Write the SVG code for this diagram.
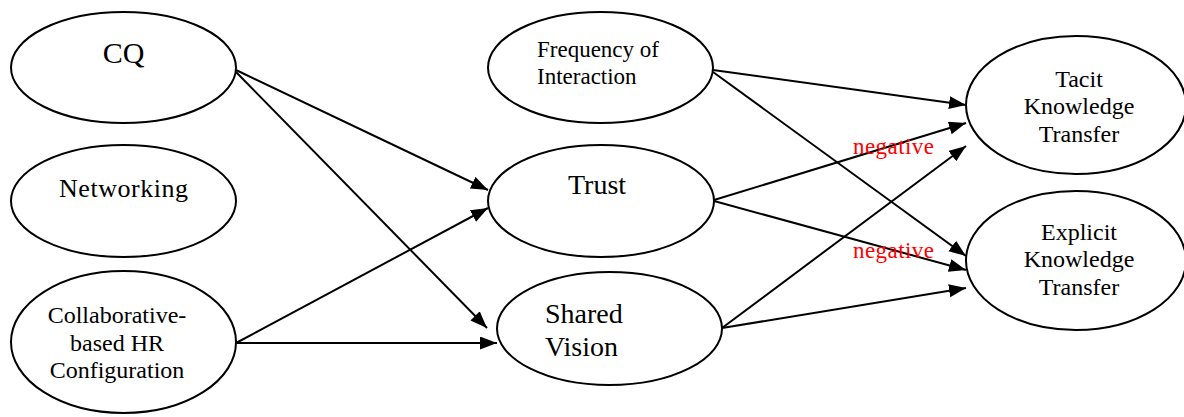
<svg xmlns="http://www.w3.org/2000/svg" width="1184" height="417" viewBox="0 0 1184 417">
<style>
.n{fill:#fff;stroke:#000;stroke-width:2}
.t{font-family:"Liberation Serif","Times New Roman",serif;fill:#000;text-anchor:middle}
.c{stroke:#000;stroke-width:2;fill:none;marker-end:url(#ah)}
.neg{font-family:"Liberation Serif","Times New Roman",serif;fill:#ff0000;font-size:23px}
</style>
<defs>
<marker id="ah" markerUnits="userSpaceOnUse" markerWidth="18" markerHeight="14" refX="17" refY="6.5" orient="auto">
<path d="M0,0 L17,6.5 L0,13 z" fill="#000"/>
</marker>
</defs>
<rect width="1184" height="417" fill="#fff"/>
<g id="connectors">
<line class="c" x1="236" y1="70" x2="488" y2="190"/>
<line class="c" x1="236" y1="72" x2="487" y2="328"/>
<line class="c" x1="236" y1="343" x2="488" y2="208"/>
<line class="c" x1="236" y1="343" x2="497" y2="343"/>
<line class="c" x1="713" y1="70" x2="966" y2="105"/>
<line class="c" x1="713" y1="72" x2="966" y2="256"/>
<line class="c" x1="714" y1="200" x2="966" y2="123"/>
<line class="c" x1="714" y1="201" x2="966" y2="270"/>
<line class="c" x1="722" y1="328" x2="966" y2="146"/>
<line class="c" x1="722" y1="328" x2="966" y2="288"/>
</g>
<g id="cq">
<ellipse class="n" cx="123.5" cy="67.5" rx="112.5" ry="55.5"/>
<text class="t" x="123.5" y="63" font-size="30">CQ</text>
</g>
<g id="networking">
<ellipse class="n" cx="123.5" cy="201" rx="112.5" ry="56"/>
<text class="t" x="123.5" y="197" font-size="26" textLength="129" lengthAdjust="spacing">Networking</text>
</g>
<g id="collab">
<ellipse class="n" cx="123.5" cy="342" rx="112.5" ry="71"/>
<text class="t" font-size="24"><tspan x="117" y="323">Collaborative-</tspan><tspan x="117" y="351">based HR</tspan><tspan x="117" y="378">Configuration</tspan></text>
</g>
<g id="freq">
<ellipse class="n" cx="600.5" cy="67.5" rx="112.5" ry="55.5"/>
<text font-family="Liberation Serif, Times New Roman, serif" font-size="23" fill="#000"><tspan x="537" y="57">Frequency of</tspan><tspan x="537" y="84">Interaction</tspan></text>
</g>
<g id="trust">
<ellipse class="n" cx="601" cy="201" rx="113" ry="56"/>
<text class="t" x="597" y="194" font-size="28">Trust</text>
</g>
<g id="shared">
<ellipse class="n" cx="609.5" cy="328.5" rx="112.5" ry="56.5"/>
<text font-family="Liberation Serif, Times New Roman, serif" font-size="28" fill="#000"><tspan x="545" y="323">Shared</tspan><tspan x="545" y="356">Vision</tspan></text>
</g>
<g id="tacit">
<ellipse class="n" cx="1076" cy="105" rx="110" ry="69"/>
<text class="t" font-size="24"><tspan x="1079" y="87">Tacit</tspan><tspan x="1079" y="114">Knowledge</tspan><tspan x="1079" y="142">Transfer</tspan></text>
</g>
<g id="explicit">
<ellipse class="n" cx="1076" cy="260.5" rx="110" ry="69.5"/>
<text class="t" font-size="24"><tspan x="1079" y="240">Explicit</tspan><tspan x="1079" y="267">Knowledge</tspan><tspan x="1079" y="295">Transfer</tspan></text>
</g>
<g id="labels">
<text class="neg" x="853" y="154" textLength="81" lengthAdjust="spacing">negative</text>
<text class="neg" x="853" y="258" textLength="81" lengthAdjust="spacing">negative</text>
</g>
</svg>
